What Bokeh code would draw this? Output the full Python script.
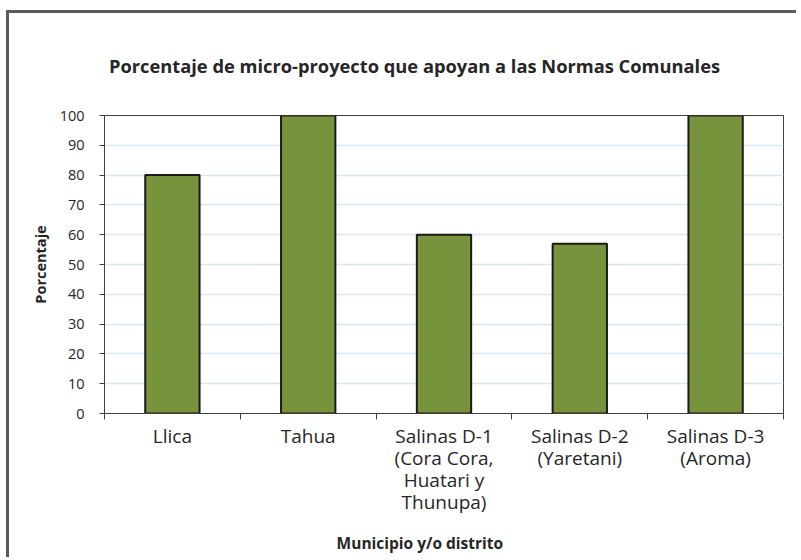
from bokeh.plotting import figure
from bokeh.models import FixedTicker, SingleIntervalTicker, Range1d
from bokeh.embed import file_html
from bokeh.resources import INLINE

title_text = "Porcentaje de micro-proyecto que apoyan a las Normas Comunales"
categories = ["Llica", "Tahua", "Salinas D-1\n(Cora Cora,\nHuatari y\nThunupa)",
              "Salinas D-2\n(Yaretani)", "Salinas D-3\n(Aroma)"]
values = [80, 100, 60, 57, 100]
y_label = "Porcentaje"
x_label = "Municipio y/o distrito"

FONT = "Open Sans"
TXT = "#262626"
centers = [i + 0.5 for i in range(len(categories))]
bounds = [float(i) for i in range(len(categories) + 1)]

p = figure(width=790, height=547, output_backend="svg", toolbar_location=None,
           x_range=Range1d(0, len(categories)), y_range=Range1d(0, 100),
           min_border_left=95, min_border_right=16, min_border_top=102, min_border_bottom=147)
p.styles = {"border-top": "3px solid #5a5a5a", "border-left": "3px solid #5a5a5a",
            "margin-top": "10px", "margin-left": "6px"}
p.background_fill_color = "white"
p.border_fill_color = "white"
p.outline_line_color = "#404040"
p.outline_line_width = 1

p.vbar(x=centers, top=values, width=0.4, fill_color="#77933C",
       line_color="#1a1a1a", line_width=2)

# grids
p.xgrid.visible = False
p.ygrid.grid_line_color = "#DCE6F2"
p.ygrid.grid_line_width = 1.5

# y axis
ya = p.yaxis[0]
ya.ticker = SingleIntervalTicker(interval=10)
ya.axis_line_color = "#404040"
ya.major_tick_line_color = "#404040"
ya.major_tick_out = 5
ya.major_tick_in = 0
ya.minor_tick_line_color = None
ya.major_label_text_font = FONT
ya.major_label_text_font_size = "14.5px"
ya.major_label_text_color = TXT
ya.major_label_standoff = 15
ya.axis_label = y_label
ya.axis_label_text_font = FONT
ya.axis_label_text_font_style = "bold"
ya.axis_label_text_font_size = "14.5px"
ya.axis_label_text_color = TXT
ya.axis_label_standoff = 7

# x axis
xa = p.xaxis[0]
xa.ticker = FixedTicker(ticks=centers, minor_ticks=bounds)
xa.major_label_overrides = {c: lab for c, lab in zip(centers, categories)}
xa.axis_line_color = "#404040"
xa.major_tick_line_color = None
xa.major_tick_out = 0
xa.major_tick_in = 0
xa.minor_tick_line_color = "#404040"
xa.minor_tick_out = 6
xa.minor_tick_in = 0
xa.major_label_text_font = FONT
xa.major_label_text_font_size = "19px"
xa.major_label_text_color = TXT
xa.major_label_text_line_height = 0.85
xa.major_label_standoff = 3
# x label is centred on the whole chart box, not on the plot frame: pad with
# non-breaking spaces so that the centred label sits left of the frame centre
xa.axis_label = x_label + "\u00a0" * 12
xa.axis_label_text_font = FONT
xa.axis_label_text_font_style = "bold"
xa.axis_label_text_font_size = "15.5px"
xa.axis_label_text_color = TXT
xa.axis_label_standoff = 14

# title
p.title.text = title_text
p.title.align = "left"
p.title.offset = 4.5
p.title.text_font = FONT
p.title.text_font_style = "bold"
p.title.text_font_size = "18.3px"
p.title.text_color = TXT
p.title.standoff = 75

open("out.html", "w").write(file_html(p, INLINE))
